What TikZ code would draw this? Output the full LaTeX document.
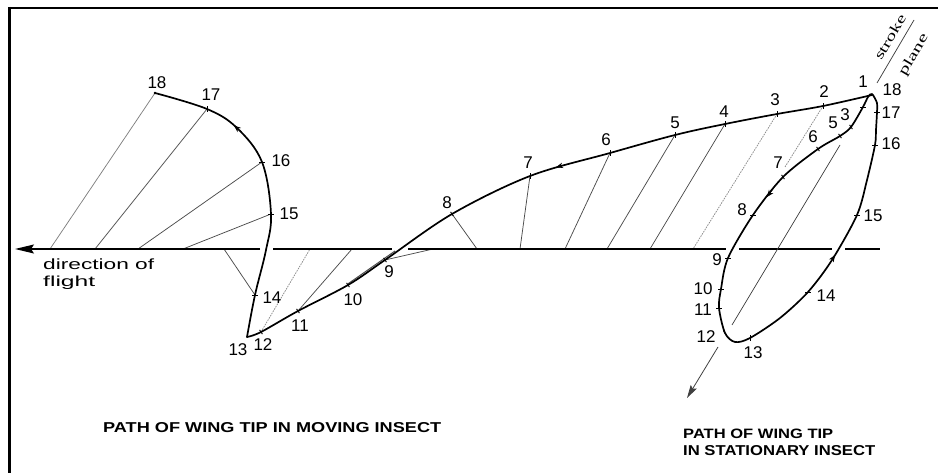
\documentclass[tikz,border=0pt]{standalone}
\usepackage{fontspec}
\setmainfont{Liberation Sans}
\newfontfamily\serifff{Liberation Serif}
\usetikzlibrary{arrows.meta,calc}
\newcommand\tkh[1]{\draw[tk] (#1) ++(-2.6,0) -- ++(5.2,0);}
\newcommand\tkv[1]{\draw[tk] (#1) ++(0,-2.6) -- ++(0,5.2);}
\newcommand\tks[1]{\draw[tk] (#1) ++(-1.4,-2.1) -- ++(2.8,4.2);}
\begin{document}
\begin{tikzpicture}[x=1pt,y=-1pt,
  pathln/.style={line width=1.7pt, line join=round, line cap=round},
  gline/.style={black!70, line width=0.75pt},
  dline/.style={black!45, line width=0.75pt, dash pattern=on 1.6pt off 1pt},
  tk/.style={line width=0.9pt},
  num/.style={font=\fontsize{17}{17}\selectfont, inner sep=0pt},
  axisln/.style={line width=1.4pt},
  midarrow/.style={line width=0.6pt, -{Stealth[length=7pt,width=5.5pt]}},
  lbl/.style={inner sep=0pt, anchor=base west},
]
\useasboundingbox (0,0) rectangle (938,473);
% frame
\draw[line width=2.5pt] (8,8) -- (938,8);
\draw[line width=2.7pt] (9.7,6.8) -- (9.7,473);

% ---------- moving path points ----------
\coordinate (m1) at (872,95);
\coordinate (m2) at (823,106);
\coordinate (m3) at (777,114);
\coordinate (m4) at (725,124);
\coordinate (m5) at (675,135);
\coordinate (m6) at (610,153);
\coordinate (m7) at (530,176);
\coordinate (m8) at (452,214);
\coordinate (m9) at (385,260);
\coordinate (m10) at (348,285);
\coordinate (m11) at (298,311);
\coordinate (m12) at (261,332);
\coordinate (m13) at (247,337);
\coordinate (m14) at (255,295);
\coordinate (m15) at (271,214);
\coordinate (m16) at (262,162);
\coordinate (m17) at (207,109);
\coordinate (m18) at (155,93);

% axis foot points
\coordinate (f18) at (50,249);
\coordinate (f17) at (95,249);
\coordinate (f16) at (138,249);
\coordinate (f15) at (183,249);
\coordinate (f14) at (224,249);
\coordinate (f12) at (310,249);
\coordinate (f11) at (352,249);
\coordinate (f10) at (395,251);
\coordinate (f9) at (433,249);
\coordinate (f8) at (477,249);
\coordinate (f7) at (520,249);
\coordinate (f6) at (565,249);
\coordinate (f5) at (607,249);
\coordinate (f4) at (650,249);
\coordinate (f3) at (693,249);
\coordinate (f2) at (785,167);

% wing lines
\draw[gline, black!50] (m18) -- (f18);
\draw[gline] (m17) -- (f17);
\draw[gline] (m16) -- (f16);
\draw[gline] (m15) -- (f15);
\draw[gline] (m14) -- (f14);
\draw[dline] (m12) -- (f12);
\draw[gline] (m11) -- (f11);
\draw[gline, line width=1pt] ($(m10)+(0,-1.2)$) -- (f10);
\draw[gline] (m9) -- (f9);
\draw[gline] (m8) -- (f8);
\draw[gline] (m7) -- (f7);
\draw[gline] (m6) -- (f6);
\draw[gline] (m5) -- (f5);
\draw[gline] (m4) -- (f4);
\draw[dline] (m3) -- (f3);
\draw[dline] (m2) -- (f2);

% axis
\coordinate (a0) at (15,249);
\coordinate (a1) at (260,249);
\coordinate (a2) at (273,249);
\coordinate (a3) at (392,249);
\coordinate (a4) at (408,249);
\coordinate (a5) at (726,249);
\coordinate (a6) at (739,249);
\coordinate (a7) at (832,249);
\coordinate (a8) at (845,249);
\coordinate (a9) at (880,249);
\draw[axisln, -{Stealth[length=19pt,width=9pt,inset=3pt]}] (a1) -- (a0);
\draw[axisln] (a2) -- (a3);
\draw[axisln] (a4) -- (a5);
\draw[axisln] (a6) -- (a7);
\draw[axisln] (a8) -- (a9);

% moving path
\draw[pathln] plot[smooth, tension=0.55] coordinates {(m1) (m2) (m3) (m4) (m5) (m6) (m7) (m8) (m9) (m10) (m11) (m12) (m13)};
\draw[pathln] plot[smooth, tension=0.6] coordinates {(m13) (m14) (266,250) (m15) (m16) (237,128) (m17) (m18)};

% direction arrows on moving path
\coordinate (ar1t) at (566,164.4);
\coordinate (ar1h) at (556,167.3);
\draw[midarrow] (ar1t) -- (ar1h);
\coordinate (ar2t) at (242,132.3);
\coordinate (ar2h) at (234,125.5);
\draw[midarrow] (ar2t) -- (ar2h);

% ticks moving path
\tkv{m2}\tkv{m3}\tkv{m4}\tkv{m5}\tkv{m6}\tkv{m7}
\tks{m8}\tks{m9}\tks{m10}\tks{m11}\tks{m12}
\tkh{m14}\tkh{m15}\tkh{m16}\tkv{m17}
\fill (m18) circle (1.4pt);

% labels moving path
\node[num] (n18) at (157,83) {18};
\node[num] (n17) at (211,95) {17};
\node[num] (n16) at (281,161) {16};
\node[num] (n15) at (289,214) {15};
\node[num] (n14) at (272,298) {14};
\node[num] (n13) at (238,350) {13};
\node[num] (n12) at (263,345) {12};
\node[num] (n11) at (300,326) {11};
\node[num] (n10) at (353,300) {10};
\node[num] (n9) at (389,272) {9};
\node[num] (n8) at (447,203) {8};
\node[num] (n7) at (528,163) {7};
\node[num] (n6) at (606,140) {6};
\node[num] (n5) at (675,123) {5};
\node[num] (n4) at (724,112) {4};
\node[num] (n3) at (775,100) {3};
\node[num] (n2) at (824,92) {2};
\node[num] (n1) at (863,82) {1};

% ---------- stationary loop ----------
\coordinate (s17) at (877,112);
\coordinate (s16) at (875,145);
\coordinate (s15) at (857,215);
\coordinate (s14) at (808,292);
\coordinate (s13) at (750,338);
\coordinate (s12) at (725,333);
\coordinate (s11) at (719,308);
\coordinate (s10) at (721,289);
\coordinate (s9) at (728,258);
\coordinate (s8) at (753,215);
\coordinate (s7) at (783,177);
\coordinate (s6) at (818,149);
\coordinate (s5) at (840,136);
\coordinate (s3) at (851,127);
\coordinate (s2) at (863,107);
\draw[pathln] plot[smooth cycle, tension=0.5] coordinates {(872,94) (877,103) (s17) (876,130) (s16) (867,180) (s15) (832,260) (s14) (780,318) (s13) (735,342) (s12) (s11) (s10) (s9) (s8) (s7) (s6) (s5) (s3) (s2) (868,97)};
\tkh{s17}\tkh{s16}\tkh{s15}\tkh{s14}\tkv{s13}\tks{s12}\tkh{s11}\tkh{s10}\tkh{s9}\tkh{s8}\tks{s7}\tks{s6}\tks{s5}\tks{s3}\tkh{s2}
\coordinate (ar3t) at (773,189);
\coordinate (ar3h) at (767,197);
\draw[midarrow] (ar3t) -- (ar3h);
\coordinate (ar4t) at (830,263);
\coordinate (ar4h) at (835,255);
\draw[midarrow] (ar4t) -- (ar4h);

\node[num] (t18) at (892,90) {18};
\node[num] (t17) at (891,113) {17};
\node[num] (t16) at (891,144) {16};
\node[num] (t15) at (873,216) {15};
\node[num] (t14) at (826,296) {14};
\node[num] (t13) at (753,353) {13};
\node[num] (t12) at (706,337) {12};
\node[num] (t11) at (703,310) {11};
\node[num] (t10) at (703,289) {10};
\node[num] (t9) at (717,260) {9};
\node[num] (t8) at (742,210) {8};
\node[num] (t7) at (778,163) {7};
\node[num] (t6) at (813,137) {6};
\node[num] (t5) at (833,123) {5};
\node[num] (t3) at (845,115) {3};

% stroke plane
\coordinate (sp1) at (914,20);
\coordinate (sp2) at (877,83);
\coordinate (sp3) at (840,145);
\coordinate (sp4) at (732,325);
\coordinate (sp5) at (718,347);
\coordinate (sp6) at (687,398);
\draw[gline, black!75] (sp1) -- (sp2);
\draw[gline, black!75] (sp3) -- (sp4);
\draw[gline, black!75, line width=0.8pt, -{Stealth[length=13pt,width=7pt,inset=2pt]}] (sp5) -- (sp6);
\node[inner sep=0pt, rotate=59.5, font=\serifff] (stk) at (890,37) {\resizebox{50pt}{9.5pt}{stroke}};
\node[inner sep=0pt, rotate=59.5, font=\serifff] (pln) at (914,55) {\resizebox{46pt}{9.5pt}{plane}};

% texts
\node[lbl] (dir1) at (43,270) {\resizebox{111pt}{10.7pt}{direction of}};
\node[lbl] (dir2) at (43,287) {\resizebox{52pt}{10.5pt}{flight}};
\node[lbl] (cap1) at (103,432) {\resizebox{338pt}{10pt}{\bfseries PATH OF WING TIP IN MOVING INSECT}};
\node[lbl] (cap2) at (683,438) {\resizebox{150pt}{9.5pt}{\bfseries PATH OF WING TIP}};
\node[lbl] (cap3) at (683,455) {\resizebox{192pt}{10pt}{\bfseries IN STATIONARY INSECT}};
\end{tikzpicture}
\end{document}
